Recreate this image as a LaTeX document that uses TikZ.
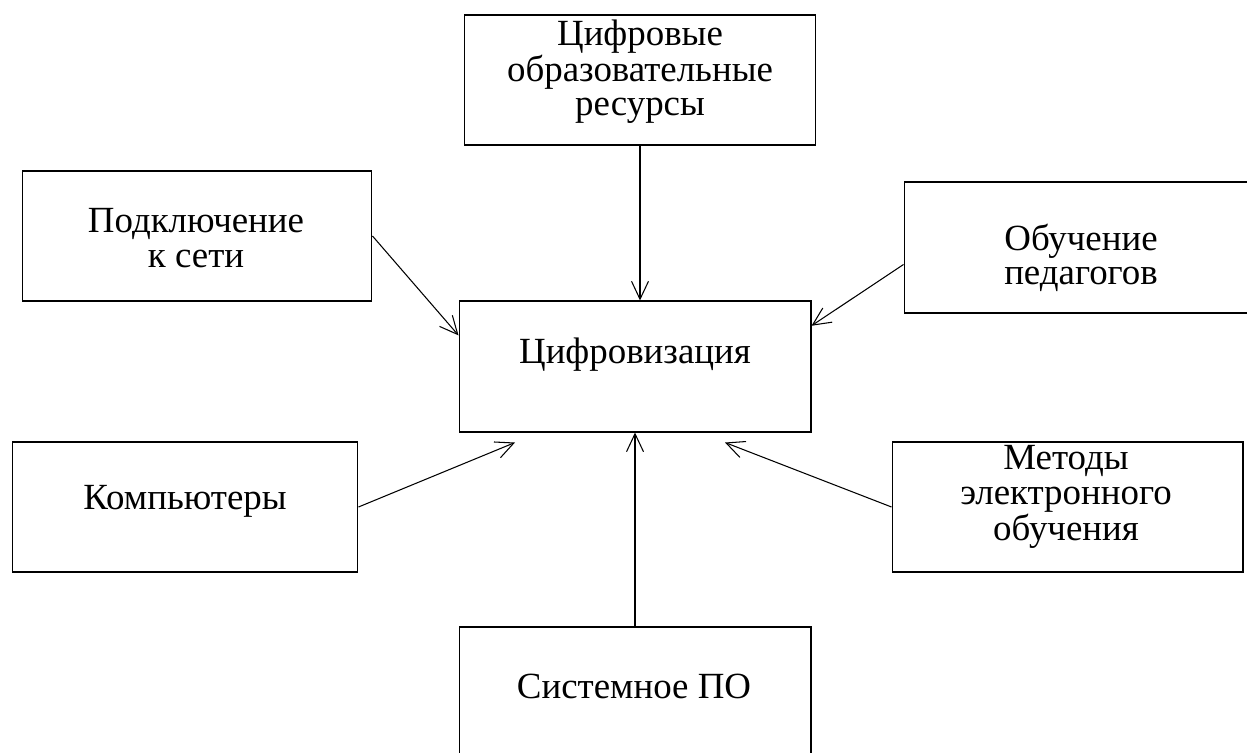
\documentclass[tikz,border=0pt]{standalone}
\usepackage{fontspec}
\setmainfont{Liberation Serif}
\usetikzlibrary{arrows.meta}

\begin{document}
\begin{tikzpicture}[x=0.02cm,y=-0.02cm,
  box/.style={draw,line width=0.6pt,minimum width=7.02cm,minimum height=2.6cm,inner sep=0pt},
  txt/.style={align=center,font=\fontsize{21}{19.5}\selectfont,inner sep=0pt},
  arr/.style={line width=0.6pt,-{Straight Barb[length=0.36cm,width=0.34cm]}}]
\useasboundingbox (0,0) rectangle (1247,753);
\clip (0,0) rectangle (1247,753);
% boxes
\node[box] (res) at (640,80) {};
\node[box,minimum width=7cm] (net) at (197,236) {};
\node[box,minimum width=7.08cm,minimum height=2.62cm] (obu) at (1081,247.5) {};
\node[box,minimum width=7.04cm,minimum height=2.62cm] (cif) at (635,366.5) {};
\node[box,minimum width=6.92cm] (pc) at (185,507) {};
\node[box] (met) at (1067.5,507) {};
\node[box,minimum width=7.04cm] (sys) at (635,692) {};
% texts
\node[txt] (res-t) at (640,72) {Цифровые\\образовательные\\ресурсы};
\node[txt] (net-t) at (196,238) {Подключение\\к сети};
\node[txt] (obu-t) at (1081,258) {Обучение\\педагогов};
\node[txt] (cif-t) at (635,355) {Цифровизация};
\node[txt] (pc-t) at (185,501) {Компьютеры};
\node[txt] (met-t) at (1066,497) {Методы\\электронного\\обучения};
\node[txt] (sys-t) at (634,686) {Системное ПО};
% arrows
\draw[arr] (res.south) -- (res.south |- cif.north);
\draw[arr] (net.east) -- (cif.170.5);
\draw[arr] ([shift={(0,17)}]obu.west) -- (cif.13.3);
\draw[arr] (pc.east) -- ([shift={(-120,10)}]cif.south);
\draw[arr] (met.west) -- ([shift={(90,10)}]cif.south);
\draw[arr] (sys.north) -- (cif.south);
\end{tikzpicture}
\end{document}
